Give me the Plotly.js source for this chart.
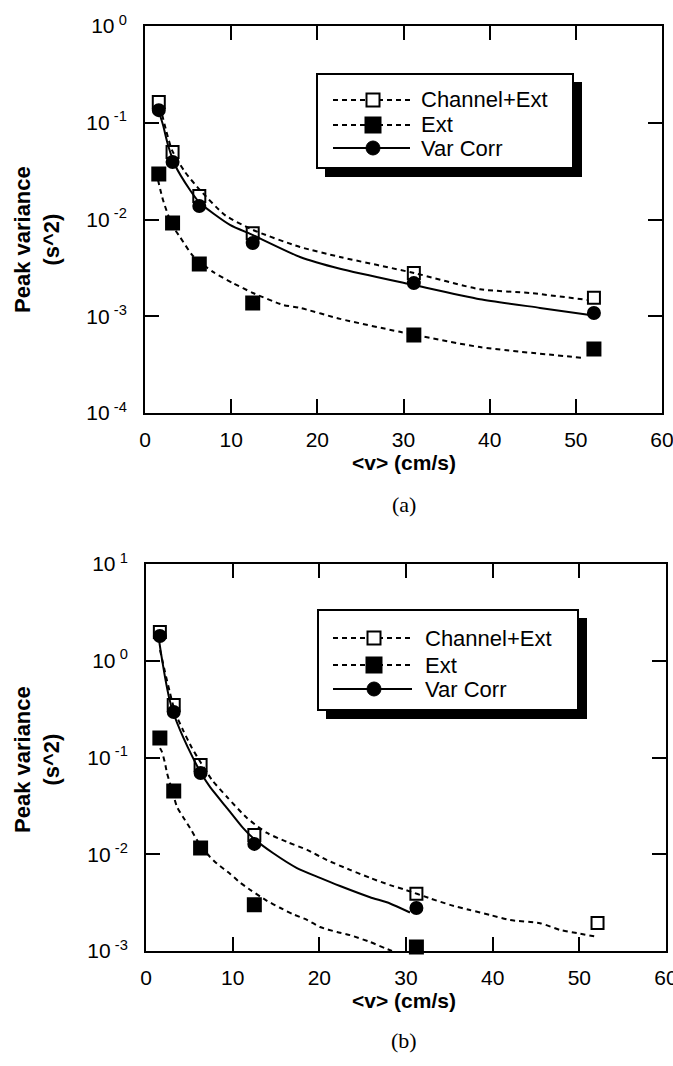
<!DOCTYPE html>
<html>
<head>
<meta charset="utf-8">
<script src="https://cdn.plot.ly/plotly-3.0.1.min.js"></script>
<style>html,body{margin:0;padding:0;background:#fff;}#chart{width:673px;height:1066px;}</style>
</head>
<body>
<div id="chart"></div>
<script>
// ---------- data ----------
const seriesNames = ["Channel+Ext", "Ext", "Var Corr"];
const xPts = [1.6, 3.2, 6.3, 12.5, 31.2, 52.1];
const xTickVals = [0, 10, 20, 30, 40, 50, 60];

// (a)
const a_chanExt = [0.164, 0.0499, 0.0175, 0.0072, 0.0028, 0.00155];
const a_ext = [0.0295, 0.0092, 0.00347, 0.00137, 0.00064, 0.00046];
const a_varCorr = [0.135, 0.0393, 0.0138, 0.0057, 0.0022, 0.00108];
const a_chanFitX = [1.74, 2.44, 3.13, 4.64, 6.38, 9.28, 12.53, 17.99, 22.63, 31.22, 38.88, 44.68, 51.41];
const a_chanFitY = [0.149, 0.0841, 0.0522, 0.0310, 0.0202, 0.0111, 0.0078, 0.0052, 0.0041, 0.0028, 0.0019, 0.00174, 0.00147];
const a_extFitX = [1.51, 2.09, 3.13, 4.06, 5.57, 7.89, 10.21, 12.53, 16.01, 17.99, 22.63, 29.59, 38.88, 51.06];
const a_extFitY = [0.0256, 0.0159, 0.0088, 0.0066, 0.0042, 0.00287, 0.0022, 0.00174, 0.00131, 0.00122, 0.00094, 0.00069, 0.00048, 0.00037];
const a_varFitX = [1.62, 2.09, 2.67, 3.48, 5.22, 6.38, 9.86, 12.53, 17.99, 22.63, 31.22, 38.88, 45.84, 51.64];
const a_varFitY = [0.129, 0.0948, 0.0589, 0.0366, 0.0202, 0.0148, 0.0088, 0.0069, 0.0041, 0.0031, 0.0021, 0.0015, 0.00122, 0.00103];
const a_yTickVals = [1e-4, 1e-3, 1e-2, 1e-1, 1];
const a_yTickText = ["10<sup>\u00a0-4</sup>", "10<sup>\u00a0-3</sup>", "10<sup>\u00a0-2</sup>", "10<sup>\u00a0-1</sup>", "10<sup>\u00a00</sup>"];

// (b)
const b_chanExt = [1.98, 0.349, 0.0835, 0.0158, 0.0039, 0.00195];
const b_ext = [0.159, 0.045, 0.0116, 0.0030, 0.0011];
const b_varCorr = [1.80, 0.295, 0.069, 0.0128, 0.00278];
const b_chanFitX = [1.62, 2.19, 2.77, 3.35, 4.27, 5.31, 6.35, 7.62, 9.35, 11.65, 13.96, 16.27, 18.58, 20.88, 23.54, 25.85, 28.15, 29.88, 32.77, 35.08, 37.38, 39.69, 42.0, 45.46, 47.77, 49.73, 52.04];
const b_chanFitY = [1.29, 0.766, 0.464, 0.295, 0.192, 0.125, 0.0877, 0.0585, 0.0391, 0.0237, 0.0166, 0.0134, 0.0111, 0.0087, 0.0069, 0.0057, 0.0048, 0.0043, 0.0035, 0.0030, 0.00265, 0.00236, 0.00209, 0.00194, 0.00165, 0.00153, 0.00140];
const b_extFitX = [1.62, 1.85, 2.19, 2.42, 3.0, 3.58, 4.27, 5.08, 6.23, 7.38, 8.19, 9.69, 10.85, 12.0, 13.96, 15.46, 16.96, 18.58, 20.08, 22.04, 23.54, 25.85, 27.58, 28.38];
const b_extFitY = [0.125, 0.114, 0.0877, 0.0692, 0.0462, 0.0308, 0.0243, 0.0187, 0.0125, 0.0094, 0.0080, 0.0063, 0.0051, 0.0043, 0.0033, 0.0028, 0.0024, 0.0021, 0.00177, 0.00157, 0.00146, 0.00124, 0.00107, 0.00100];
const b_varFitX = [1.50, 1.73, 2.19, 2.65, 3.12, 4.27, 5.42, 6.35, 7.38, 9.35, 11.19, 12.35, 14.65, 17.42, 20.08, 22.39, 25.85, 28.15, 30.46];
const b_varFitY = [1.64, 1.20, 0.68, 0.42, 0.295, 0.163, 0.099, 0.069, 0.0496, 0.030, 0.0187, 0.0147, 0.0103, 0.0072, 0.0057, 0.0047, 0.0036, 0.0031, 0.0025];
const b_yTickVals = [1e-3, 1e-2, 1e-1, 1, 10];
const b_yTickText = ["10<sup>\u00a0-3</sup>", "10<sup>\u00a0-2</sup>", "10<sup>\u00a0-1</sup>", "10<sup>\u00a00</sup>", "10<sup>\u00a01</sup>"];

const xTitle = "&lt;v&gt; (cm/s)";
const yTitle = "Peak variance<br>(s^2)";
const panelLabels = ["(a)", "(b)"];

// ---------- layout helpers ----------
const W = 673, H = 1066;
const fx = p => p / W;
const fy = p => 1 - p / H;
const FONT = "Liberation Sans, Arial, Helvetica, sans-serif";
const DASH = "5px,4px";

function fitTrace(x, y, dash, xa, ya) {
  return {x: x, y: y, xaxis: xa, yaxis: ya, type: "scatter", mode: "lines",
    line: {color: "#000", width: 2, dash: dash, shape: "spline", smoothing: 0.6},
    showlegend: false, hoverinfo: "skip"};
}
function markTrace(x, y, sym, size, xa, ya, name) {
  return {x: x, y: y, xaxis: xa, yaxis: ya, type: "scatter", mode: "markers", name: name,
    cliponaxis: false,
    marker: {symbol: sym, size: size, color: "#000", line: {color: "#000", width: 2}},
    showlegend: false};
}

const traces = [
  fitTrace(a_chanFitX, a_chanFitY, DASH, "x", "y"),
  fitTrace(a_extFitX, a_extFitY, DASH, "x", "y"),
  fitTrace(a_varFitX, a_varFitY, "solid", "x", "y"),
  markTrace(xPts, a_chanExt, "square-open", 12, "x", "y", seriesNames[0]),
  markTrace(xPts, a_ext, "square", 13, "x", "y", seriesNames[1]),
  markTrace(xPts, a_varCorr, "circle", 12, "x", "y", seriesNames[2]),

  fitTrace(b_chanFitX, b_chanFitY, DASH, "x2", "y2"),
  fitTrace(b_extFitX, b_extFitY, DASH, "x2", "y2"),
  fitTrace(b_varFitX, b_varFitY, "solid", "x2", "y2"),
  markTrace(xPts, b_chanExt, "square-open", 12, "x2", "y2", seriesNames[0]),
  markTrace(xPts.slice(0, b_ext.length), b_ext, "square", 13, "x2", "y2", seriesNames[1]),
  markTrace(xPts.slice(0, b_varCorr.length), b_varCorr, "circle", 12, "x2", "y2", seriesNames[2])
];

function xAxis(dom, anchor) {
  return {domain: dom, anchor: anchor, range: [0, 60], tickvals: xTickVals, ticktext: xTickVals.map(String),
    showline: true, linewidth: 2, linecolor: "#000", mirror: "ticks", ticks: "inside", ticklen: 14,
    tickwidth: 2, tickcolor: "#000", showgrid: false, zeroline: false, automargin: false,
    ticklabeloverflow: "allow", ticklabelstandoff: 7, tickfont: {family: FONT, size: 21, color: "#000"}};
}
function yAxis(dom, anchor, rng, tv, tt) {
  return {domain: dom, anchor: anchor, type: "log", range: rng, tickvals: tv, ticktext: tt,
    showline: true, linewidth: 2, linecolor: "#000", mirror: "ticks", ticks: "inside", ticklen: 14,
    tickwidth: 2, tickcolor: "#000", showgrid: false, zeroline: false, automargin: false,
    ticklabeloverflow: "allow", ticklabelstandoff: 12, tickfont: {family: FONT, size: 21, color: "#000"}};
}

const shapes = [];
const annotations = [];

function legend(box, rows, lineX0, lineX1, mX, textX) {
  shapes.push({type: "rect", xref: "paper", yref: "paper", x0: fx(box[0] + 8), x1: fx(box[2] + 9),
    y0: fy(box[3] + 9), y1: fy(box[1] + 8), fillcolor: "#000", line: {width: 0}, layer: "above"});
  shapes.push({type: "rect", xref: "paper", yref: "paper", x0: fx(box[0]), x1: fx(box[2]),
    y0: fy(box[3]), y1: fy(box[1]), fillcolor: "#fff", line: {color: "#000", width: 2}, layer: "above"});
  const dashes = [DASH, DASH, "solid"];
  rows.forEach((ry, i) => {
    shapes.push({type: "line", xref: "paper", yref: "paper", x0: fx(lineX0), x1: fx(lineX1), y0: fy(ry), y1: fy(ry),
      line: {color: "#000", width: 2, dash: dashes[i]}, layer: "above"});
    if (i === 2) {
      shapes.push({type: "circle", xref: "paper", yref: "paper", x0: fx(mX - 7), x1: fx(mX + 7), y0: fy(ry + 7), y1: fy(ry - 7),
        fillcolor: "#000", line: {color: "#000", width: 1}, layer: "above"});
    } else {
      const h = i === 0 ? 6.5 : 7.5;
      shapes.push({type: "rect", xref: "paper", yref: "paper", x0: fx(mX - h), x1: fx(mX + h), y0: fy(ry + h), y1: fy(ry - h),
        fillcolor: i === 0 ? "#fff" : "#000", line: {color: "#000", width: 2}, layer: "above"});
    }
    annotations.push({xref: "paper", yref: "paper", x: fx(textX), y: fy(ry), xanchor: "left", yanchor: "middle",
      text: seriesNames[i], showarrow: false, font: {family: FONT, size: 22, color: "#000"}});
  });
}
legend([317, 74, 573, 168], [100, 125, 148], 333, 410, 373, 419);
legend([318, 610, 578, 710], [638, 665, 689], 333, 412, 374, 423);

function yTitleAnn(cy) {
  annotations.push({xref: "paper", yref: "paper", x: fx(37), y: fy(cy), xanchor: "center", yanchor: "middle",
    text: "<b>" + yTitle + "</b>", textangle: -90, showarrow: false,
    font: {family: FONT, size: 22, color: "#000"}});
}
function xTitleAnn(cy) {
  annotations.push({xref: "paper", yref: "paper", x: fx(404), y: fy(cy), xanchor: "center", yanchor: "middle",
    text: "<b>" + xTitle + "</b>", showarrow: false, font: {family: FONT, size: 21, color: "#000"}});
}
function panelAnn(cy, t) {
  annotations.push({xref: "paper", yref: "paper", x: fx(404), y: fy(cy), xanchor: "center", yanchor: "middle",
    text: t, showarrow: false, font: {family: "Liberation Serif, Times New Roman, serif", size: 22, color: "#000"}});
}
yTitleAnn(240); yTitleAnn(760);
xTitleAnn(463); xTitleAnn(1000);
panelAnn(505, panelLabels[0]); panelAnn(1040, panelLabels[1]);

const layout = {
  width: W, height: H,
  margin: {l: 0, r: 0, t: 0, b: 0, pad: 0},
  paper_bgcolor: "#fff", plot_bgcolor: "#fff",
  showlegend: false,
  font: {family: FONT, color: "#000"},
  xaxis: xAxis([fx(145), fx(662)], "y"),
  yaxis: yAxis([fy(413), fy(26)], "x", [-4, 0], a_yTickVals, a_yTickText),
  xaxis2: xAxis([fx(146), fx(666)], "y2"),
  yaxis2: yAxis([fy(951), fy(564)], "x2", [-3, 1], b_yTickVals, b_yTickText),
  shapes: shapes,
  annotations: annotations
};

Plotly.newPlot("chart", traces, layout, {staticPlot: true, displayModeBar: false});
</script>
</body>
</html>
